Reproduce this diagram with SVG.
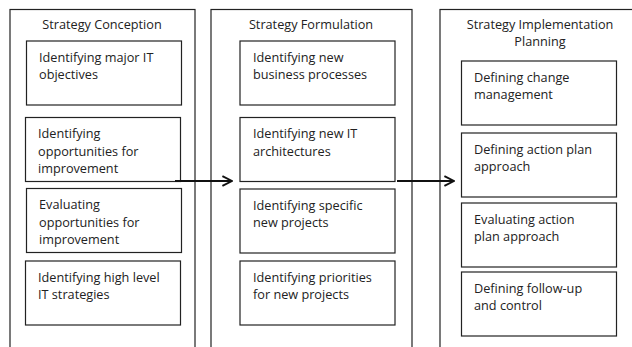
<svg xmlns="http://www.w3.org/2000/svg" width="632" height="347" viewBox="0 0 632 347">
  <style>
    .stage { fill: #fff; stroke: #222; stroke-width: 1.2; }
    .task { fill: #fff; stroke: #222; stroke-width: 1.2; }
    text { font-family: "Open Sans", "Liberation Sans", sans-serif; font-size: 12.7px; fill: #222; }
    .title { text-anchor: middle; }
    .flow { stroke: #111; stroke-width: 2; fill: none; marker-end: url(#chevron); }
  </style>
  <defs>
    <marker id="chevron" viewBox="0 0 10 10" refX="9" refY="5" markerWidth="6" markerHeight="6" orient="auto" markerUnits="strokeWidth">
      <path d="M1,1 L9,5 L1,9" fill="none" stroke="#111" stroke-width="1.6"/>
    </marker>
  </defs>
  <rect width="632" height="347" fill="#fff"/>

  <!-- Stage 1 -->
  <g id="strategy-conception">
    <rect class="stage" x="10" y="9.5" width="185" height="360"/>
    <text class="title" x="102" y="29">Strategy Conception</text>
    <g id="sc-1">
      <rect class="task" x="26.5" y="41" width="155" height="64"/>
      <text x="39" y="61.5">Identifying major IT</text>
      <text x="39" y="78.5">objectives</text>
    </g>
    <g id="sc-2">
      <rect class="task" x="25.5" y="117.5" width="155" height="64"/>
      <text x="38" y="138">Identifying</text>
      <text x="38" y="155.5">opportunities for</text>
      <text x="38" y="173">improvement</text>
    </g>
    <g id="sc-3">
      <rect class="task" x="26.5" y="188.5" width="155" height="64"/>
      <text x="39" y="209">Evaluating</text>
      <text x="39" y="226.5">opportunities for</text>
      <text x="39" y="244">improvement</text>
    </g>
    <g id="sc-4">
      <rect class="task" x="25.5" y="261" width="155" height="64"/>
      <text x="38" y="281.5">Identifying high level</text>
      <text x="38" y="299">IT strategies</text>
    </g>
  </g>

  <!-- Stage 2 -->
  <g id="strategy-formulation">
    <rect class="stage" x="211" y="9.5" width="201" height="360"/>
    <text class="title" x="311" y="29">Strategy Formulation</text>
    <g id="sf-1">
      <rect class="task" x="240" y="41" width="155" height="64"/>
      <text x="253" y="61.5">Identifying new</text>
      <text x="253" y="79">business processes</text>
    </g>
    <g id="sf-2">
      <rect class="task" x="240" y="117.5" width="155" height="64"/>
      <text x="253" y="138">Identifying new IT</text>
      <text x="253" y="155.5">architectures</text>
    </g>
    <g id="sf-3">
      <rect class="task" x="240" y="189" width="155" height="64"/>
      <text x="253" y="209.5">Identifying specific</text>
      <text x="253" y="227">new projects</text>
    </g>
    <g id="sf-4">
      <rect class="task" x="240" y="261" width="155" height="64"/>
      <text x="253" y="281.5">Identifying priorities</text>
      <text x="253" y="299">for new projects</text>
    </g>
  </g>

  <!-- Stage 3 -->
  <g id="strategy-implementation-planning">
    <rect class="stage" x="440" y="9.5" width="210" height="360"/>
    <text class="title" x="540" y="28.5">Strategy Implementation</text>
    <text class="title" x="540" y="46">Planning</text>
    <g id="sip-1">
      <rect class="task" x="461.5" y="61" width="155" height="64"/>
      <text x="474" y="81.5">Defining change</text>
      <text x="474" y="99">management</text>
    </g>
    <g id="sip-2">
      <rect class="task" x="461.5" y="133" width="155" height="64"/>
      <text x="474" y="153.5">Defining action plan</text>
      <text x="474" y="171">approach</text>
    </g>
    <g id="sip-3">
      <rect class="task" x="461.5" y="203" width="155" height="64"/>
      <text x="474" y="223.5">Evaluating action</text>
      <text x="474" y="241">plan approach</text>
    </g>
    <g id="sip-4">
      <rect class="task" x="461.5" y="272" width="155" height="64"/>
      <text x="474" y="292.5">Defining follow-up</text>
      <text x="474" y="310">and control</text>
    </g>
  </g>

  <!-- Connectors -->
  <g id="connectors">
    <line class="flow" x1="175" y1="181" x2="232" y2="181"/>
    <line class="flow" x1="397" y1="181" x2="454" y2="181"/>
  </g>
</svg>
